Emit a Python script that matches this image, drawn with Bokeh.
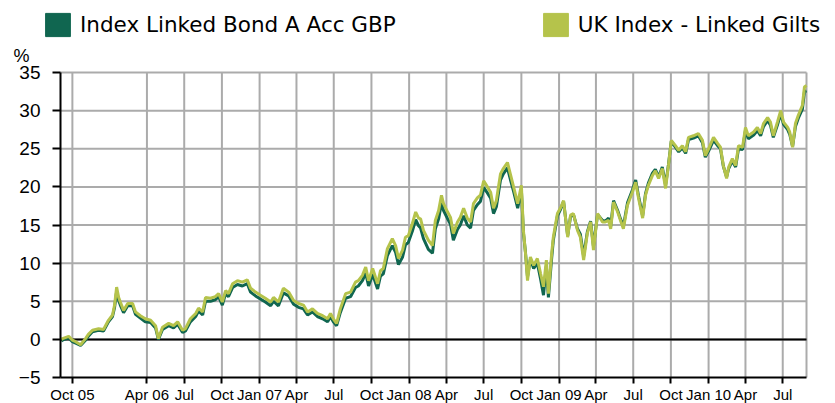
from bokeh.plotting import figure
from bokeh.models import (Range1d, FixedTicker, Legend, LegendItem, Label)
from bokeh.embed import file_html
from bokeh.resources import INLINE
import pandas as pd

# ---------------- data ----------------
start_date = "2005-09-02"

# day offsets from start_date
days = [
    2, 5, 20, 29, 37, 49, 61, 68, 78, 93, 105, 117, 127, 132, 137, 142, 146, 154, 164, 176,
    183, 195, 207, 220, 232, 239, 249, 264, 276, 286, 298, 305, 317, 330, 337, 347, 354, 366,
    378, 386, 395, 403, 410, 420, 432, 444, 456,
    464, 476, 488, 500, 513, 520, 532, 544, 557, 569, 581, 593, 603, 615, 627, 640, 652, 659,
    666, 674, 683, 696, 708, 720, 727, 737, 745, 752, 762, 774, 781, 788, 798, 810, 818, 825,
    835, 842, 849, 859, 867, 874,
    879, 886, 898, 908, 915, 923, 930, 935, 945, 952, 959, 969, 976, 984, 993, 1001, 1008,
    1018, 1025, 1033, 1042, 1050, 1057, 1064, 1074, 1081, 1091, 1098, 1106, 1116, 1125, 1130,
    1135, 1140, 1147, 1155, 1164, 1172, 1179, 1186, 1191, 1199, 1203, 1213, 1221, 1228, 1238,
    1245, 1252, 1262, 1269, 1277, 1286, 1294, 1301, 1311, 1323, 1330, 1338, 1343, 1350, 1360, 1367,
    1374, 1384, 1396, 1404, 1411, 1421, 1428, 1435, 1445, 1452, 1460, 1469, 1477, 1484, 1491,
    1501, 1509, 1518, 1526, 1533, 1545, 1557, 1567, 1574, 1582, 1594, 1604, 1611, 1618, 1626,
    1631, 1640, 1648, 1655, 1665, 1672, 1679, 1692, 1701, 1709, 1716, 1726, 1733, 1740, 1750,
    1758, 1765, 1775, 1780, 1787, 1794, 1801, 1811, 1816, 1821,
]

fund_pct = [
    -0.2, -0.1, 0.2, -0.3, -0.5, -0.8, -0.1, 0.4, 1.0, 1.2, 1.1, 2.3, 3.0, 4.2, 6.3, 5.1, 4.5, 3.5,
    4.4, 4.4, 3.3, 2.8, 2.3, 2.2, 1.5, 0.0, 1.3, 1.8, 1.5, 2.0, 0.9, 1.1, 2.3, 3.0, 3.7, 3.2, 5.0,
    5.0, 5.2, 5.6, 4.5, 6.0, 5.6, 6.8, 7.2, 7.0, 7.3,
    6.2, 5.7, 5.3, 4.9, 4.4, 5.0, 4.4, 6.1, 5.7, 4.6, 4.2, 4.0, 3.2, 3.6, 3.0, 2.7, 2.3, 3.0, 2.3,
    1.8, 3.5, 5.4, 5.6, 6.8, 7.0, 7.7, 8.7, 7.0, 8.5, 6.6, 8.3, 8.6, 11.0, 12.3, 11.4, 9.8, 10.8,
    12.4, 12.7, 14.2, 15.7, 14.9,
    14.6, 13.2, 11.8, 11.3, 14.5, 15.8, 17.9, 16.9, 15.8, 15.1, 13.0, 14.4, 15.0, 16.2, 15.0, 14.6,
    16.9, 17.7, 18.1, 19.9, 19.2, 18.5, 16.5, 17.4, 20.9, 21.7, 22.5, 21.0, 19.4, 17.2, 19.6, 14.0,
    11.4, 8.2, 10.5, 9.3, 10.0, 7.9, 5.8, 9.6, 5.5, 10.7, 13.0, 16.2, 17.1, 18.1, 13.6, 16.1, 16.4,
    14.5, 13.8, 10.9, 14.1, 15.5, 12.2, 16.4, 15.6, 15.5, 15.9, 14.8, 18.2, 16.9, 15.8,
    14.8, 17.9, 19.6, 20.9, 18.8, 16.2, 19.1, 20.5, 21.8, 22.3, 21.3, 22.6, 20.2, 22.9, 26.0, 25.2,
    24.6, 25.1, 24.4, 26.2, 26.4, 26.7, 25.8, 23.9, 24.7, 26.1, 25.4, 25.0, 22.7, 21.3, 22.4, 23.4,
    22.6, 25.0, 24.9, 27.4, 26.3, 26.8, 27.4, 26.7, 27.9, 28.7, 28.1, 26.5, 28.1, 29.6, 28.2, 27.5,
    26.9, 25.3, 27.9, 29.0, 30.2, 32.5, 32.6,
]

index_pct = [
    0.0, 0.1, 0.4, -0.1, -0.3, -0.7, 0.1, 0.65, 1.2, 1.4, 1.3, 2.5, 3.2, 4.5, 6.85, 5.5, 4.9, 3.8,
    4.7, 4.7, 3.6, 3.1, 2.7, 2.5, 1.8, 0.1, 1.6, 2.1, 1.8, 2.3, 1.2, 1.4, 2.7, 3.4, 4.1, 3.6, 5.5,
    5.4, 5.6, 6.0, 4.9, 6.4, 6.0, 7.3, 7.7, 7.5, 7.8,
    6.7, 6.2, 5.8, 5.4, 4.9, 5.5, 4.9, 6.7, 6.2, 5.1, 4.7, 4.5, 3.6, 4.0, 3.4, 3.1, 2.7, 3.4, 2.7,
    2.1, 4.0, 6.0, 6.2, 7.5, 7.7, 8.4, 9.5, 7.7, 9.3, 7.3, 9.0, 9.3, 11.9, 13.2, 12.3, 10.6, 11.7,
    13.4, 13.6, 15.2, 16.7, 15.9,
    15.8, 14.3, 13.0, 12.3, 15.6, 16.9, 18.9, 17.8, 16.7, 16.0, 13.9, 15.4, 16.0, 17.2, 15.9, 15.4,
    17.8, 18.6, 18.9, 20.8, 20.0, 19.3, 17.2, 18.2, 21.7, 22.4, 23.2, 21.7, 20.0, 17.8, 20.2, 14.3,
    11.3, 7.7, 10.8, 9.7, 10.6, 8.6, 6.9, 10.4, 6.0, 11.3, 13.4, 16.5, 17.3, 18.2, 13.4, 16.3, 16.5,
    14.3, 13.4, 10.4, 13.9, 15.4, 11.7, 16.5, 15.4, 15.4, 15.6, 14.5, 18.0, 16.7, 15.6,
    14.5, 17.6, 19.3, 20.6, 18.5, 15.9, 18.9, 20.2, 21.5, 22.1, 21.1, 22.4, 19.8, 22.8, 26.1, 25.4,
    24.8, 25.4, 24.6, 26.5, 26.7, 27.0, 26.1, 24.1, 25.0, 26.5, 25.7, 25.2, 22.8, 21.1, 22.6, 23.7,
    22.8, 25.4, 25.2, 27.8, 26.7, 27.2, 27.8, 27.0, 28.3, 29.1, 28.5, 26.7, 28.5, 30.0, 28.5, 27.8,
    27.2, 25.2, 28.3, 29.4, 30.7, 33.1, 33.3,
]

series_names = ["Index Linked Bond A Acc GBP", "UK Index - Linked Gilts"]
unit_label = "%"

tick_dates = ["2005-10-01", "2006-04-01", "2006-07-01", "2006-10-01", "2007-01-01",
              "2007-04-01", "2007-07-01", "2007-10-01", "2008-01-01", "2008-04-01",
              "2008-07-01", "2008-10-01", "2009-01-01", "2009-04-01", "2009-07-01",
              "2009-10-01", "2010-01-01", "2010-04-01", "2010-07-01"]
tick_labels = ["Oct 05", "Apr 06", "Jul", "Oct", "Jan 07", "Apr", "Jul", "Oct", "Jan 08",
               "Apr", "Jul", "Oct", "Jan 09", "Apr", "Jul", "Oct", "Jan 10", "Apr", "Jul"]
y_ticks = [-5, 0, 5, 10, 15, 20, 25, 30, 35]
y_min, y_max = -5, 35
end_day = 1821

# ---------------- layout / styling ----------------
W, H = 835, 403
PL, PR, PT, PB = 60, 806, 72, 377          # plot-area edges in page pixels
DARK = "#106650"
LIGHT = "#B5C34B"
GRID = "#ABABAB"
NAN = float("nan")

t0 = pd.Timestamp(start_date)
tick_days = [(pd.Timestamp(d) - t0).days for d in tick_dates]

dx = end_day / (PR - PL)
dy = (y_max - y_min) / (PB - PT)
x_range = Range1d(-PL * dx, end_day + (W - PR) * dx)
y_range = Range1d(y_min - (H - PB) * dy, y_max + PT * dy)

p = figure(width=W, height=H, x_range=x_range, y_range=y_range,
           output_backend="svg", toolbar_location=None, title=None,
           min_border=0, min_border_left=0, min_border_right=0,
           min_border_top=0, min_border_bottom=0)
p.background_fill_color = "white"
p.border_fill_color = "white"
p.outline_line_color = None
p.xgrid.visible = False
p.ygrid.visible = False

# grid lines, limited to the plot area
vx = tick_days + [end_day]
p.segment(x0=vx, x1=vx, y0=[y_min] * len(vx), y1=[y_max] * len(vx),
          line_color=GRID, line_width=2, level="underlay")
hy = [t for t in y_ticks if t != y_min]
p.segment(x0=[0] * len(hy), x1=[end_day] * len(hy), y0=hy, y1=hy,
          line_color=GRID, line_width=2, level="underlay")
# zero line
p.segment(x0=[0], x1=[end_day], y0=[0], y1=[0], line_color="black", line_width=2)

# y axis, pinned at the plot-area left edge
p.yaxis.fixed_location = 0
p.yaxis.bounds = (y_min, y_max)
p.yaxis.ticker = FixedTicker(ticks=y_ticks)
p.yaxis.axis_line_color = "black"
p.yaxis.axis_line_width = 2
p.yaxis.major_tick_line_color = "black"
p.yaxis.major_tick_line_width = 2
p.yaxis.major_tick_out = 8
p.yaxis.major_tick_in = 0
p.yaxis.minor_tick_out = 0
p.yaxis.minor_tick_in = 0
p.yaxis.major_label_standoff = 12
p.yaxis.major_label_text_font = "Liberation Sans"
p.yaxis.major_label_text_font_size = "19px"
p.yaxis.major_label_text_color = "black"

# x axis, pinned at y = -5
p.xaxis.fixed_location = y_min
p.xaxis.bounds = (0, end_day)
p.xaxis.ticker = FixedTicker(ticks=tick_days)
p.xaxis.major_label_overrides = {d: lab for d, lab in zip(tick_days, tick_labels)}
p.xaxis.major_label_text_font = "Liberation Sans"
p.xaxis.major_label_text_font_size = "15px"
p.xaxis.major_label_text_color = "black"
p.xaxis.major_label_standoff = 2
p.xaxis.axis_line_color = "black"
p.xaxis.axis_line_width = 2
p.xaxis.major_tick_line_color = "black"
p.xaxis.major_tick_line_width = 2
p.xaxis.major_tick_out = 6
p.xaxis.major_tick_in = 0
p.xaxis.minor_tick_out = 0
p.xaxis.minor_tick_in = 0

# series
p.line(days, fund_pct, line_color=DARK, line_width=3)
p.line(days, index_pct, line_color=LIGHT, line_width=3)

# legend with box swatches
r1 = p.quad(left=[NAN], right=[NAN], top=[NAN], bottom=[NAN], fill_color=DARK, line_color=DARK)
r2 = p.quad(left=[NAN], right=[NAN], top=[NAN], bottom=[NAN], fill_color=LIGHT, line_color=LIGHT)
legend = Legend(items=[LegendItem(label=series_names[0], renderers=[r1]),
                       LegendItem(label=series_names[1], renderers=[r2])],
                location=(42, H - 39), orientation="horizontal",
                glyph_width=31, glyph_height=29, label_standoff=7, spacing=144,
                padding=0, margin=0, border_line_alpha=0, background_fill_alpha=0,
                label_text_font="DejaVu Sans", label_text_font_size="21.5px",
                label_text_color="black")
p.add_layout(legend)

# unit label
p.add_layout(Label(x=13, y=H - 55, x_units="screen", y_units="screen", text=unit_label,
                   text_font="Liberation Sans", text_font_size="18px",
                   text_baseline="alphabetic", text_align="left", text_color="black"))

open("out.html", "w").write(file_html(p, INLINE))
